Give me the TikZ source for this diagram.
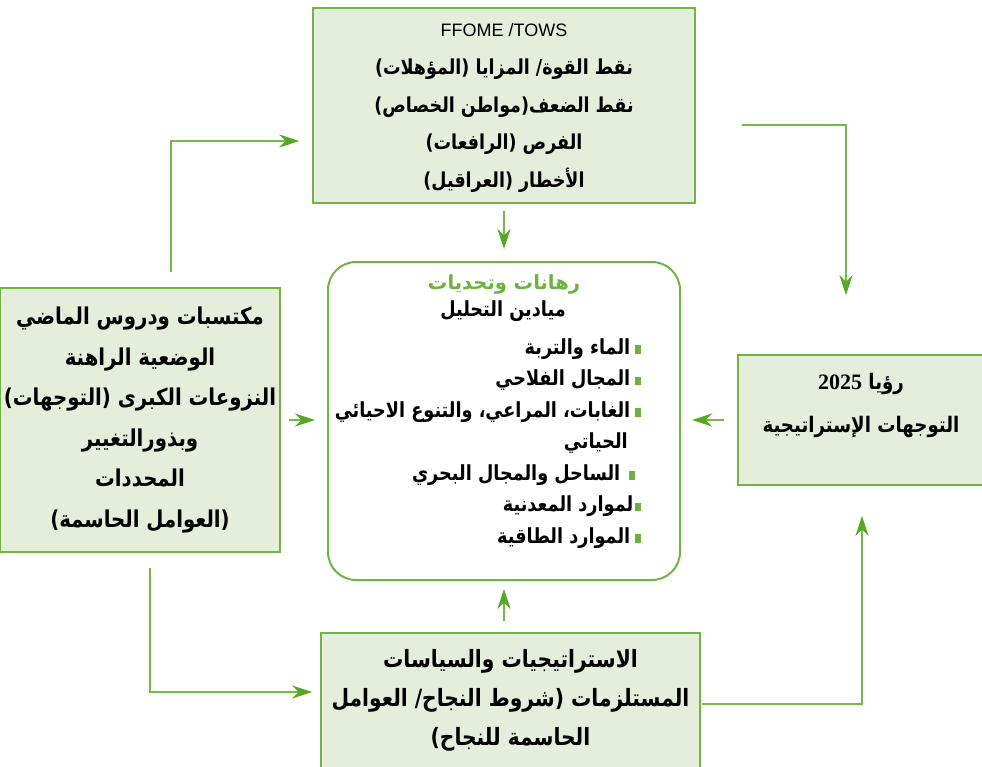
\documentclass[tikz,border=0pt]{standalone}
\usepackage{fontspec}
\setmainfont{Liberation Sans}
\newfontfamily\arabicfont[Script=Arabic,FakeStretch=0.85]{DejaVu Sans}
\newfontfamily\arabictitle[Script=Arabic]{DejaVu Sans}
\newfontfamily\numfont{Liberation Serif}
\TeXXeTstate=1
\usetikzlibrary{positioning,arrows.meta,calc}
\definecolor{BoxGreen}{HTML}{72B443}
\definecolor{ArrowGreen}{HTML}{55A823}
\definecolor{LineGreen}{HTML}{74BA4A}
\definecolor{PaleGreen}{HTML}{E5EDDB}
\definecolor{TitleGreen}{HTML}{6CB33E}
\newcommand{\arline}[1]{\beginR #1\endR}
\newcommand{\bul}{\hspace{5pt}\textcolor{TitleGreen}{\raisebox{0.5pt}{\rule{5.5pt}{8.5pt}}}}

\begin{document}
\begin{tikzpicture}[x=1pt, y=-1pt,
  box/.style={draw=BoxGreen, line width=1.5pt, fill=PaleGreen, inner sep=0pt, align=center},
  artxt/.style={font=\fontsize{20.8}{37.5}\selectfont\arabicfont\bfseries, align=center, inner sep=0pt},
  flow/.style={draw=LineGreen, line width=1.5pt, -{Stealth[length=20pt,width=13pt,color=ArrowGreen]}}]

  \useasboundingbox (0,0) rectangle (982,766);

  % ===== SWOT (top) =====
  \node[box, minimum width=382, minimum height=195] (swot) at (504,105.5) {};
  \node[artxt, font=\fontsize{20.6}{37.7}\selectfont\arabicfont\bfseries] (swottxt) at (504,108)
       {{\normalfont\fontsize{18}{37.7}\selectfont FFOME /TOWS}\\
        \arline{نقط القوة/ المزايا (المؤهلات)}\\
        \arline{نقط الضعف(مواطن الخصاص)}\\
        \arline{الفرص (الرافعات)}\\
        \arline{الأخطار (العراقيل)}};

  % ===== enjeux (centre) =====
  \node[box, fill=white, line width=2pt, rounded corners=28, minimum width=352, minimum height=318] (enjeux) at (504,421) {};
  \node[font=\fontsize{19.5}{20}\selectfont\arabictitle\bfseries, text=TitleGreen, inner sep=0pt] (titre) at (504,284)
       {\arline{رهانات وتحديات}};
  \node[artxt] (champ) at (503,311) {\arline{ميادين التحليل}};
  \node[artxt, font=\fontsize{20.8}{31.5}\selectfont\arabicfont\bfseries, align=right, anchor=north east] (liste) at (641,338)
       {\arline{الماء والتربة}\bul\\
        \arline{المجال الفلاحي}\bul\\
        \arline{الغابات، المراعي، والتنوع الاحيائي}\bul\\
        \arline{الحياتي}\kern13pt\\
        \arline{الساحل والمجال البحري}\hspace{4pt}\bul\kern6pt\\
        \arline{لموارد المعدنية}\hspace{-3pt}\bul\\
        \arline{الموارد الطاقية}\bul};

  % ===== acquis (left) =====
  \node[box, artxt, font=\fontsize{23.2}{40.5}\selectfont\arabicfont\bfseries, minimum width=280, minimum height=264] (acquis) at (140,420)
       {\arline{مكتسبات ودروس الماضي}\\
        \arline{الوضعية الراهنة}\\
        \arline{النزوعات الكبرى (التوجهات)}\\
        \arline{وبذورالتغيير}\\
        \arline{المحددات}\\
        \arline{(العوامل الحاسمة)}};

  % ===== vision (right) =====
  \node[box, minimum width=246, minimum height=130] (vision) at (861,420) {};
  \node[artxt, font=\fontsize{21.4}{43}\selectfont\arabicfont\bfseries] (visiontxt) at (861,405)
       {\arline{رؤيا \beginL{\numfont\bfseries\fontsize{22}{20}\selectfont 2025}\endL}\\
        \arline{التوجهات الإستراتيجية}};

  % ===== strategies (bottom) =====
  \node[box, artxt, font=\fontsize{23.8}{39}\selectfont\arabicfont\bfseries, minimum width=379, minimum height=135] (strat) at (510.5,700.5)
       {\arline{الاستراتيجيات والسياسات}\\
        \arline{المستلزمات (شروط النجاح/ العوامل}\\
        \arline{الحاسمة للنجاح)}};

  % ===== connectors =====
  \draw[flow] ($(acquis.north)+(31,-15)$) |- ($(swot.west)+(-13,35.5)$);
  \draw[flow] ($(swot.east)+(46,19.5)$) -| ($(vision.north)+(-15,-59)$);
  \draw[flow, shorten <=7pt, shorten >=12pt] (swot.south) -- (enjeux.north);
  \draw[flow, shorten <=8pt, shorten >=12pt] (acquis.east) -- (acquis.east -| enjeux.west);
  \draw[flow, shorten <=13pt, shorten >=11pt] (vision.west) -- (vision.west -| enjeux.east);
  \draw[flow] ($(acquis.south)+(10,15)$) |- ($(strat.west)+(-8,-8.5)$);
  \draw[flow, shorten <=11pt, shorten >=8pt] (strat.north -| enjeux.south) -- (enjeux.south);
  \draw[flow] ($(strat.east)+(1,3.5)$) -| ($(vision.south)+(1,30)$);

\end{tikzpicture}
\end{document}
